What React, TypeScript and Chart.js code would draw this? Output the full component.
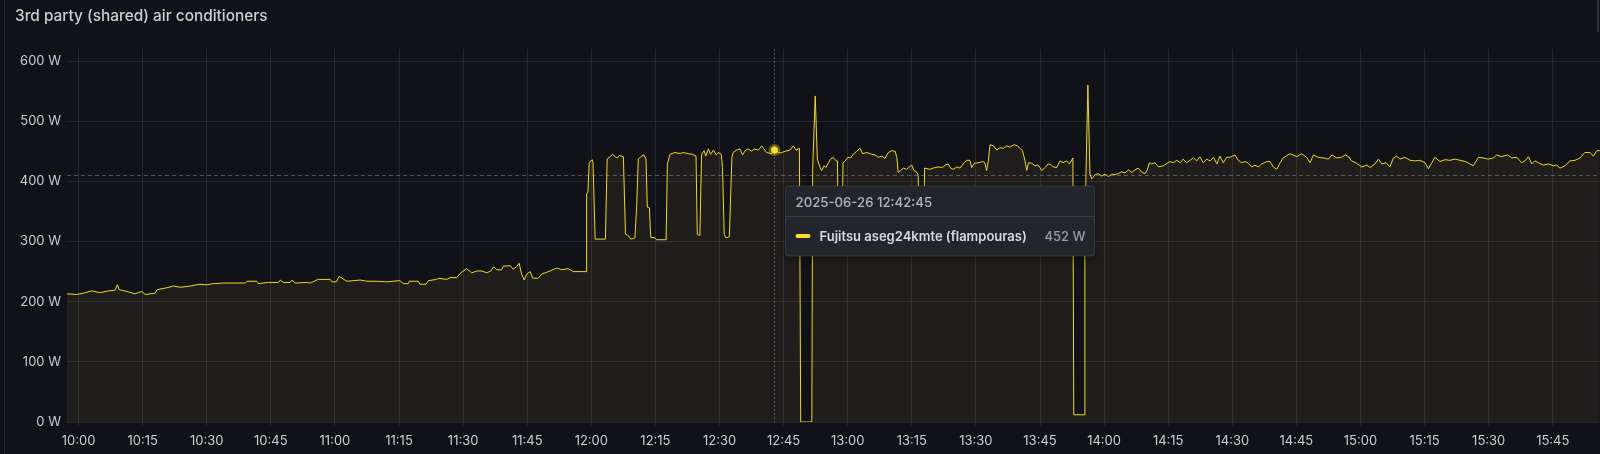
import React, { useEffect, useRef } from "react";
import { Chart, registerables } from "chart.js";

Chart.register(...registerables);

// ---------- data ----------
const TITLE = "3rd party (shared) air conditioners";
const SERIES_NAME = "Fujitsu aseg24kmte (flampouras)";

// minutes after 10:00 (2025-06-26)
const minutesAfter10: number[] = [
  -2.7, -0.4, 1.1, 3.1, 5.0, 7.0, 8.5, 9.1, 9.5, 11.3, 13.2, 14.8, 15.6, 17.9, 18.4, 20.6, 22.2, 23.8, 26.1, 28.4,
  30.0, 31.5, 33.9, 39.0, 39.4, 41.7, 42.1, 44.4, 46.8, 47.2, 47.9, 49.5, 50.0, 50.7, 53.4, 54.2, 56.1, 58.9, 59.3, 60.3,
  61.0, 62.8, 65.9, 67.5, 69.8, 72.1, 75.2, 76.0, 77.2, 77.4, 79.5, 79.9, 81.3, 81.9, 83.8, 84.2, 86.2, 86.9, 88.5, 89.3,
  90.8, 92.0, 93.2, 94.4, 95.5, 96.5, 97.1, 97.9, 99.0, 99.4, 101.0, 101.7, 102.5, 103.1, 103.7, 104.3, 104.9, 105.7, 106.3, 107.6,
  108.4, 109.6, 110.3, 111.9, 113.1, 114.6, 115.8, 118.1, 118.8, 118.9, 119.2, 119.5, 120.2, 120.4, 120.9, 123.3, 123.7, 124.4, 125.0, 125.6,
  126.1, 126.6, 127.5, 128.0, 128.7, 129.2, 130.2, 130.6, 131.0, 131.8, 132.3, 132.8, 133.1, 133.6, 133.9, 134.9, 135.3, 137.5, 137.8, 138.4,
  139.6, 140.8, 141.5, 142.7, 143.7, 144.5, 144.8, 145.4, 145.8, 146.4, 146.8, 147.4, 147.9, 148.6, 149.2, 149.7, 150.4, 150.7, 151.1, 151.5,
  152.3, 152.9, 153.2, 154.0, 154.8, 155.4, 156.0, 156.7, 157.5, 158.1, 159.1, 159.9, 160.3, 161.0, 162.2, 162.75, 164.2, 165.3, 166.5, 167.3,
  167.9, 168.7, 169.0, 171.6, 171.8, 172.4, 172.9, 173.5, 173.9, 174.5, 174.9, 175.5, 176.0, 176.6, 177.3, 177.6, 177.8, 178.7, 178.9, 179.4,
  180.1, 180.7, 181.3, 182.1, 182.9, 183.5, 184.5, 185.6, 186.4, 187.2, 188.0, 188.7, 189.5, 190.3, 191.1, 191.5, 191.8, 192.4, 193.0, 193.8,
  194.4, 195.0, 195.5, 196.2, 196.5, 196.7, 197.8, 198.0, 199.3, 200.0, 201.2, 202.2, 202.8, 203.5, 204.1, 204.7, 205.5, 206.3, 207.2, 207.9,
  208.6, 209.0, 209.6, 210.6, 211.6, 212.1, 212.5, 212.9, 213.3, 214.1, 214.9, 215.6, 216.4, 217.2, 218.0, 218.9, 219.7, 220.3, 220.9, 221.5,
  221.9, 222.3, 223.1, 223.8, 224.6, 225.4, 226.2, 226.9, 227.5, 228.1, 228.9, 229.7, 230.4, 231.2, 231.9, 232.7, 232.9, 235.3, 235.5, 236.2,
  236.7, 237.1, 237.9, 238.6, 239.4, 240.2, 241.0, 241.8, 242.5, 243.3, 244.1, 244.9, 245.7, 246.5, 247.2, 248.0, 248.8, 249.6, 250.1, 250.6,
  251.1, 251.9, 252.7, 253.9, 254.7, 255.4, 256.2, 257.0, 257.8, 258.5, 259.3, 260.1, 260.9, 261.7, 262.4, 263.2, 264.0, 264.8, 265.6, 266.4,
  267.1, 267.9, 268.7, 269.5, 270.6, 271.4, 272.2, 273.0, 273.8, 274.5, 275.3, 276.1, 276.9, 278.1, 278.8, 279.6, 280.4, 281.2, 281.9, 283.5,
  285.1, 286.2, 287.4, 288.2, 289.0, 290.1, 291.3, 292.5, 293.3, 294.4, 295.6, 296.4, 297.2, 297.9, 299.1, 300.3, 301.5, 302.2, 303.4, 304.2,
  305.0, 306.0, 306.9, 307.7, 308.5, 309.2, 310.4, 311.6, 312.8, 313.9, 315.1, 315.9, 316.7, 317.4, 318.6, 319.8, 320.9, 322.1, 323.3, 324.5,
  325.6, 326.4, 327.6, 328.7, 329.9, 331.1, 331.9, 333.0, 334.4, 335.4, 336.6, 337.7, 338.5, 339.3, 340.1, 340.8, 341.6, 342.8, 344.0, 345.1,
  345.9, 346.7, 347.9, 349.0, 350.2, 351.4, 352.5, 353.7, 354.5, 355.3, 356.0,
];

// power in W
const watts: number[] = [
  213, 212, 214, 218, 215, 218, 219, 228, 220, 217, 213, 217, 212, 214, 220, 223, 226, 224, 226, 229,
  228, 230, 231, 231, 234, 234, 230, 232, 232, 236, 232, 232, 236, 231, 232, 231, 237, 237, 233, 233,
  242, 234, 236, 234, 234, 233, 235, 230, 230, 234, 234, 229, 229, 235, 237, 239, 237, 240, 240, 247,
  255, 248, 251, 251, 248, 251, 258, 253, 253, 259, 260, 254, 258, 264, 246, 236, 246, 250, 239, 239,
  246, 249, 251, 256, 253, 255, 250, 250, 250, 379, 382, 431, 436, 431, 304, 304, 437, 441, 445, 441,
  439, 443, 441, 312, 310, 304, 306, 357, 437, 442, 444, 437, 357, 356, 307, 306, 303, 303, 429, 445,
  448, 446, 448, 446, 445, 442, 312, 310, 445, 451, 442, 454, 445, 452, 444, 448, 445, 423, 312, 306,
  308, 440, 448, 452, 454, 444, 451, 454, 450, 454, 452, 459, 455, 448, 446, 452, 447, 450, 452, 459,
  452, 455, 0, 0, 420, 542, 437, 424, 418, 426, 423, 431, 437, 440, 434, 434, 320, 320, 431, 434,
  440, 439, 445, 450, 455, 446, 448, 445, 444, 440, 442, 438, 448, 451, 450, 440, 415, 418, 422, 420,
  424, 427, 418, 415, 409, 340, 340, 422, 420, 422, 424, 423, 427, 429, 422, 420, 424, 422, 431, 435,
  435, 423, 430, 431, 433, 431, 418, 434, 461, 459, 452, 456, 455, 459, 457, 461, 459, 455, 451, 434,
  418, 431, 430, 426, 427, 418, 423, 429, 428, 424, 423, 434, 431, 434, 429, 439, 12, 12, 320, 560,
  412, 404, 411, 413, 409, 412, 408, 412, 411, 413, 416, 414, 419, 415, 419, 422, 415, 413, 419, 431,
  429, 431, 424, 426, 430, 433, 431, 435, 431, 437, 431, 435, 439, 434, 441, 431, 437, 434, 440, 429,
  442, 431, 440, 440, 444, 435, 431, 433, 430, 424, 427, 424, 429, 433, 433, 424, 420, 431, 439, 446,
  441, 446, 440, 431, 444, 440, 439, 437, 444, 439, 440, 444, 441, 434, 430, 424, 427, 423, 429, 437,
  429, 431, 424, 439, 442, 437, 440, 435, 434, 435, 431, 421, 431, 440, 433, 436, 435, 437, 435, 433,
  429, 426, 440, 439, 437, 439, 444, 441, 444, 439, 440, 431, 434, 441, 429, 434, 431, 427, 429, 426,
  427, 422, 426, 434, 435, 439, 448, 448, 442, 451, 451,
];

const xTickMinutes: number[] = [
  0, 15, 30, 45, 60, 75, 90, 105, 120, 135, 150, 165, 180, 195, 210, 225, 240, 255, 270, 285, 300, 315, 330, 345,
];
const xTickLabels: string[] = [
  "10:00", "10:15", "10:30", "10:45", "11:00", "11:15", "11:30", "11:45", "12:00", "12:15", "12:30", "12:45",
  "13:00", "13:15", "13:30", "13:45", "14:00", "14:15", "14:30", "14:45", "15:00", "15:15", "15:30", "15:45",
];
const yTickValues: number[] = [0, 100, 200, 300, 400, 500, 600];
const yTickLabels: string[] = ["0 W", "100 W", "200 W", "300 W", "400 W", "500 W", "600 W"];

const X_MIN = -2.7;
const X_MAX = 356.05;
const Y_MIN = 0;
const Y_MAX = 620;

// hover state shown in the reference
const hoverMinute = 162.75;
const hoverWatts = 452;
const cursorWatts = 410;
const tooltipTime = "2025-06-26 12:42:45";
const tooltipValue = "452 W";

// ---------- styles ----------
const BG = "#111217";
const TEXT = "rgb(204, 204, 220)";
const GRID = "rgba(240, 250, 255, 0.09)";
const LINE = "#F2D62A";
const FILL = "rgba(230, 190, 90, 0.075)";
const FONT = "Inter, 'Noto Sans', sans-serif";

function roundRect(ctx: CanvasRenderingContext2D, x: number, y: number, w: number, h: number, r: number) {
  ctx.beginPath();
  ctx.moveTo(x + r, y);
  ctx.lineTo(x + w - r, y);
  ctx.arcTo(x + w, y, x + w, y + r, r);
  ctx.lineTo(x + w, y + h - r);
  ctx.arcTo(x + w, y + h, x + w - r, y + h, r);
  ctx.lineTo(x + r, y + h);
  ctx.arcTo(x, y + h, x, y + h - r, r);
  ctx.lineTo(x, y + r);
  ctx.arcTo(x, y, x + r, y, r);
  ctx.closePath();
}

const panelPlugin = {
  id: "grafanaPanel",
  beforeDraw(chart: any) {
    const ctx: CanvasRenderingContext2D = chart.ctx;
    ctx.save();
    ctx.fillStyle = BG;
    ctx.fillRect(0, 0, chart.width, chart.height);
    // panel left border
    ctx.fillStyle = "rgba(204, 204, 220, 0.10)";
    ctx.fillRect(4, 0, 1, chart.height);
    // small element top-right
    ctx.fillStyle = "rgba(204, 204, 220, 0.18)";
    ctx.fillRect(1597, 0, 2, 32);
    // title
    ctx.fillStyle = TEXT;
    ctx.font = `500 15.4px ${FONT}`;
    ctx.textBaseline = "alphabetic";
    ctx.textAlign = "left";
    ctx.fillText(TITLE, 15, 21);
    ctx.restore();
  },
  afterDraw(chart: any) {
    const ctx: CanvasRenderingContext2D = chart.ctx;
    const area = chart.chartArea;
    const xs = chart.scales.x;
    const ys = chart.scales.y;
    const cx = Math.round(xs.getPixelForValue(hoverMinute)) + 0.5;
    const cy = Math.round(ys.getPixelForValue(cursorWatts)) + 0.5;
    const py = ys.getPixelForValue(hoverWatts);
    ctx.save();
    // crosshair
    ctx.strokeStyle = "rgba(204, 204, 220, 0.35)";
    ctx.lineWidth = 1;
    ctx.setLineDash([2, 2]);
    ctx.beginPath();
    ctx.moveTo(cx, area.top);
    ctx.lineTo(cx, area.bottom);
    ctx.stroke();
    ctx.setLineDash([4, 3]);
    ctx.beginPath();
    ctx.moveTo(area.left, cy);
    ctx.lineTo(area.right, cy);
    ctx.stroke();
    ctx.setLineDash([]);
    // hover point
    ctx.fillStyle = "rgba(250, 222, 42, 0.35)";
    ctx.beginPath();
    ctx.arc(cx, py, 6, 0, Math.PI * 2);
    ctx.fill();
    ctx.fillStyle = "#FADE2A";
    ctx.beginPath();
    ctx.arc(cx, py, 3.5, 0, Math.PI * 2);
    ctx.fill();

    // tooltip
    const tx = cx + 11;
    const ty = cy + 10.5;
    const tw = 309;
    const th = 70;
    ctx.shadowColor = "rgba(0,0,0,0.45)";
    ctx.shadowBlur = 8;
    ctx.shadowOffsetY = 2;
    roundRect(ctx, tx, ty, tw, th, 3);
    ctx.fillStyle = "#22252b";
    ctx.fill();
    ctx.shadowColor = "transparent";
    ctx.shadowBlur = 0;
    ctx.shadowOffsetY = 0;
    ctx.strokeStyle = "rgba(204, 204, 220, 0.15)";
    ctx.stroke();
    ctx.fillStyle = "rgba(204, 204, 220, 0.15)";
    ctx.fillRect(tx, ty + 30, tw, 1);

    ctx.textBaseline = "alphabetic";
    ctx.textAlign = "left";
    ctx.font = `500 13.2px ${FONT}`;
    ctx.fillStyle = "rgba(204, 204, 220, 0.85)";
    ctx.fillText(tooltipTime, tx + 10, ty + 21);

    // legend marker
    ctx.strokeStyle = "#FADE2A";
    ctx.lineWidth = 4;
    ctx.lineCap = "round";
    ctx.beginPath();
    ctx.moveTo(tx + 12, ty + 50);
    ctx.lineTo(tx + 23, ty + 50);
    ctx.stroke();

    ctx.font = `600 13px ${FONT}`;
    ctx.fillStyle = "rgb(216, 216, 230)";
    ctx.fillText(SERIES_NAME, tx + 34, ty + 55);
    ctx.textAlign = "right";
    ctx.font = `500 13px ${FONT}`;
    ctx.fillStyle = "rgba(204, 204, 220, 0.7)";
    ctx.fillText(tooltipValue, tx + tw - 9, ty + 55);
    ctx.restore();
  },
};

export default function App() {
  const ref = useRef<HTMLCanvasElement | null>(null);

  useEffect(() => {
    document.body.style.margin = "0";
    document.body.style.background = BG;
    const canvas = ref.current;
    if (!canvas) return;
    const points = minutesAfter10.map((m, i) => ({ x: m, y: watts[i] }));
    const chart = new Chart(canvas, {
      type: "line",
      data: {
        datasets: [
          {
            label: SERIES_NAME,
            data: points,
            borderColor: LINE,
            borderWidth: 1,
            backgroundColor: FILL,
            fill: "origin",
            pointRadius: 0,
            pointHoverRadius: 0,
            tension: 0,
          },
        ],
      },
      options: {
        responsive: false,
        devicePixelRatio: 1,
        animation: false,
        events: [],
        layout: { padding: { top: 49, left: 0, right: 0, bottom: 0 } },
        plugins: {
          legend: { display: false },
          tooltip: { enabled: false },
          title: { display: false },
        },
        scales: {
          x: {
            type: "linear",
            min: X_MIN,
            max: X_MAX,
            afterBuildTicks: (axis: any) => {
              axis.ticks = xTickMinutes.map((v) => ({ value: v }));
            },
            afterFit: (axis: any) => {
              axis.height = 32;
            },
            border: { display: false },
            grid: {
              color: GRID,
              lineWidth: 1,
              drawTicks: true,
              tickLength: 4,
              tickColor: GRID,
            },
            ticks: {
              autoSkip: false,
              maxRotation: 0,
              minRotation: 0,
              padding: 7,
              color: TEXT,
              font: { family: FONT, size: 13 },
              callback: (value: any) => {
                const idx = xTickMinutes.indexOf(Number(value));
                return idx >= 0 ? xTickLabels[idx] : "";
              },
            },
          },
          y: {
            type: "linear",
            min: Y_MIN,
            max: Y_MAX,
            afterBuildTicks: (axis: any) => {
              axis.ticks = yTickValues.map((v) => ({ value: v }));
            },
            afterFit: (axis: any) => {
              axis.width = 67;
            },
            border: { display: false },
            grid: {
              color: GRID,
              lineWidth: 1,
              drawTicks: false,
            },
            ticks: {
              padding: 6,
              color: TEXT,
              font: { family: FONT, size: 13 },
              callback: (value: any) => {
                const idx = yTickValues.indexOf(Number(value));
                return idx >= 0 ? yTickLabels[idx] : "";
              },
            },
          },
        },
      },
      plugins: [panelPlugin],
    });
    return () => chart.destroy();
  }, []);

  return (
    <div style={{ position: "relative", width: 1600, height: 454, background: BG }}>
      <canvas ref={ref} width={1600} height={454} style={{ display: "block" }} />
    </div>
  );
}
